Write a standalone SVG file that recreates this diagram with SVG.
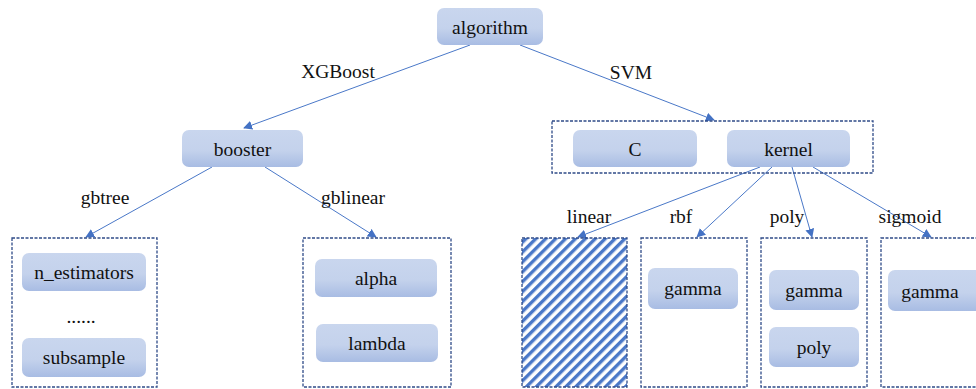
<svg xmlns="http://www.w3.org/2000/svg" width="976" height="389" viewBox="0 0 976 389" font-family="'Times New Roman', 'Liberation Serif', 'DejaVu Serif', serif">
<style>
text{font-family:"Times New Roman","Liberation Serif","DejaVu Serif",serif;font-size:19.5px;fill:#111;text-anchor:middle;dominant-baseline:central}
.n{fill:url(#g);stroke:none}
.c{fill:none;stroke:#2f4b88;stroke-width:1.3;stroke-dasharray:3 1.5}
.e{stroke:#4a78c8;stroke-width:1;fill:none;marker-end:url(#a)}
</style>
<defs>
<linearGradient id="g" x1="0" y1="0" x2="0" y2="1">
<stop offset="0" stop-color="#c9d6ee"/>
<stop offset="0.55" stop-color="#c4d2ec"/>
<stop offset="1" stop-color="#a8bce3"/>
</linearGradient>
<pattern id="h" width="7" height="7" patternUnits="userSpaceOnUse" patternTransform="rotate(45)">
<rect x="0" y="0" width="3.4" height="7" fill="#4a78c8"/>
</pattern>
<marker id="a" viewBox="0 0 10 10" refX="9" refY="5" markerWidth="9" markerHeight="9" markerUnits="userSpaceOnUse" orient="auto">
<path d="M0,0 L10,5 L0,10 z" fill="#4472c4"/>
</marker>
</defs>
<rect width="976" height="389" fill="#fff"/>
<g id="connectors">
<line class="e" x1="470" y1="45" x2="244" y2="128"/>
<line class="e" x1="520" y1="45" x2="714" y2="120"/>
<line class="e" x1="212" y1="167" x2="86" y2="237"/>
<line class="e" x1="265" y1="167" x2="376" y2="237"/>
<line class="e" x1="760" y1="167" x2="578" y2="237"/>
<line class="e" x1="772" y1="167" x2="697" y2="237"/>
<line class="e" x1="792" y1="167" x2="812" y2="237"/>
<line class="e" x1="813" y1="167" x2="931" y2="237"/>
<text x="338" y="71">XGBoost</text>
<text x="631" y="72">SVM</text>
<text x="105" y="197">gbtree</text>
<text x="353" y="197">gblinear</text>
<text x="589" y="216">linear</text>
<text x="681" y="216">rbf</text>
<text x="787" y="216">poly</text>
<text x="910" y="216">sigmoid</text>
</g>
<g id="algorithm"><rect class="n" x="437" y="8" width="106" height="37" rx="7"/><text x="490" y="27">algorithm</text></g>
<g id="booster"><rect class="n" x="182" y="130" width="121" height="37" rx="7"/><text x="242.5" y="149">booster</text></g>
<g id="svm-group"><rect class="c" x="552" y="121" width="321" height="52"/></g>
<g id="C"><rect class="n" x="573" y="130" width="124" height="37" rx="7"/><text x="635" y="149">C</text></g>
<g id="kernel"><rect class="n" x="727" y="130" width="123" height="37" rx="7"/><text x="788.5" y="149">kernel</text></g>
<g id="gbtree-group">
<rect class="c" x="12" y="238" width="145" height="149"/>
<rect class="n" x="22" y="253" width="124" height="38" rx="7"/><text x="84" y="272">n_estimators</text>
<text x="81" y="316">......</text>
<rect class="n" x="22" y="338" width="124" height="39" rx="7"/><text x="84" y="357">subsample</text>
</g>
<g id="gblinear-group">
<rect class="c" x="303" y="238" width="148" height="149"/>
<rect class="n" x="315" y="259" width="122" height="38" rx="7"/><text x="376" y="278">alpha</text>
<rect class="n" x="316" y="324" width="122" height="38" rx="7"/><text x="377" y="343">lambda</text>
</g>
<g id="linear-group">
<rect x="522" y="238" width="105" height="149" fill="url(#h)"/>
<rect class="c" x="522" y="238" width="105" height="149"/>
</g>
<g id="rbf-group">
<rect class="c" x="641" y="238" width="106" height="149"/>
<rect class="n" x="648" y="268" width="90" height="41" rx="7"/><text x="693" y="288">gamma</text>
</g>
<g id="poly-group">
<rect class="c" x="761" y="238" width="106" height="149"/>
<rect class="n" x="769" y="270" width="90" height="40" rx="7"/><text x="814" y="290">gamma</text>
<rect class="n" x="769" y="327" width="90" height="40" rx="7"/><text x="814" y="347">poly</text>
</g>
<g id="sigmoid-group">
<rect class="c" x="881" y="238" width="110" height="149"/>
<rect class="n" x="888" y="270" width="100" height="41" rx="7"/><text x="930" y="291">gamma</text>
</g>
</svg>
